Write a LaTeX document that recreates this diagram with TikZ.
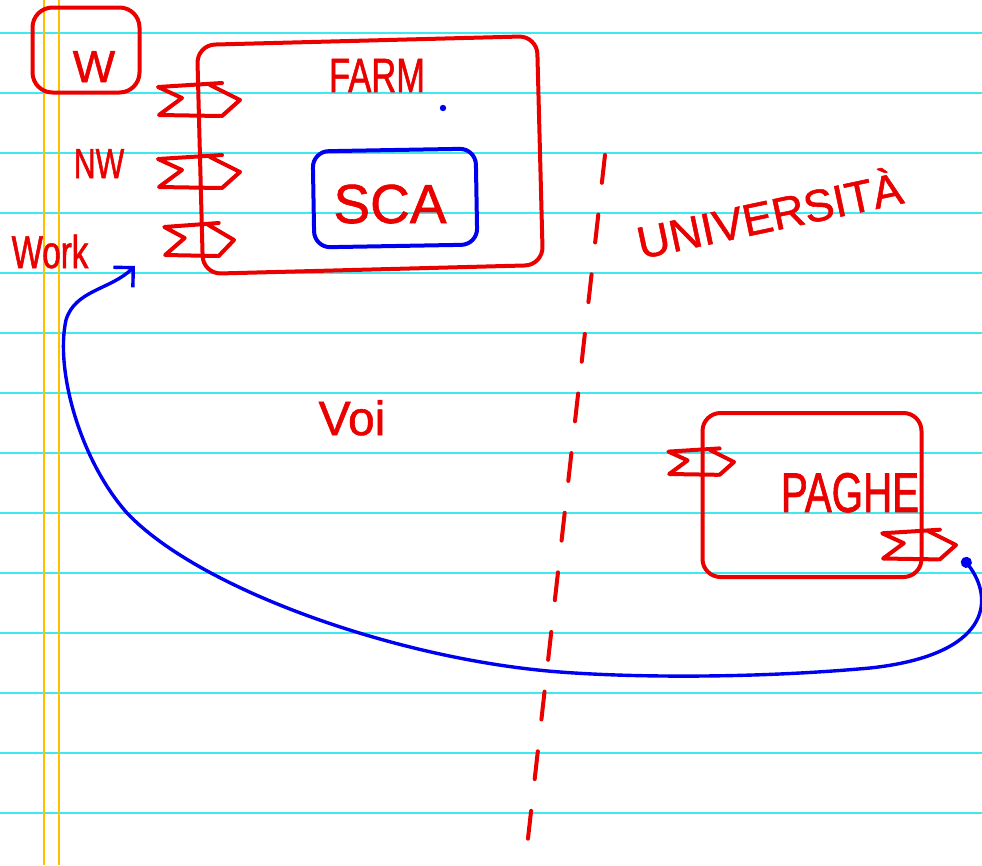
\documentclass[tikz,border=0pt]{standalone}
\usepackage{fontspec}
\newfontfamily\handfont[FakeStretch=0.72,FakeBold=1.2]{Liberation Sans}
\newfontfamily\handwide[FakeBold=1.2]{Liberation Sans}
\usetikzlibrary{arrows.meta,positioning}
\definecolor{penred}{RGB}{235,0,0}
\definecolor{penblue}{RGB}{0,0,240}
\definecolor{ruleline}{RGB}{64,232,240}
\definecolor{marginline}{RGB}{255,192,0}

\begin{document}
\begin{tikzpicture}[
    x=1pt, y=-1pt,
    box/.style={draw=penred, line width=4pt, rounded corners=18pt, inner sep=0pt},
    inbox/.style={draw=penblue, line width=4pt, rounded corners=16pt, inner sep=0pt},
    txt/.style={text=penred, anchor=base, inner sep=0pt},
    sigport/.pic={
        \draw[penred, line width=4pt, line cap=round, line join=round]
            (22,-17) -- (-42,-13) -- (-18,-2) -- (-41,15) -- (20,16)
            (10,-15) -- (40,0) -- (22,16);
    },
    flow/.style={penblue, line width=3.4pt, line cap=round, {Circle[length=11pt]}-{Straight Barb[length=14pt,width=28pt]}}
]
    % paper
    \useasboundingbox (0,0) rectangle (982,865);
    \fill[white] (0,0) rectangle (982,865);
    \foreach \k in {0,...,13}
        \draw[ruleline, line width=2pt] (0,33+60*\k) -- (982,33+60*\k);
    \draw[marginline, line width=1.5pt] (44,0) -- (44,865) (59,0) -- (59,865);

    % left side
    \node[box, rounded corners=20pt, minimum width=107pt, minimum height=85pt] (wbox) at (86,50) {};
    \node[txt, font=\handwide\fontsize{45}{45}\selectfont] (wlbl) at (94,82) {W};
    \node[txt, font=\handfont\fontsize{42}{42}\selectfont] (nwlbl) at (99,178) {NW};
    \node[txt, font=\handfont\fontsize{46}{46}\selectfont] (worklbl) at (50,268) {Work};

    % farm
    \node[box, rotate=1.5, minimum width=340pt, minimum height=229pt] (farm) at (370,155) {};
    \node[txt, font=\handfont\fontsize{48}{48}\selectfont] (farmlbl) at (377,92) {FARM};
    \fill[penblue] (443,108) circle (3.2pt);
    \node[inbox, rotate=1, minimum width=163pt, minimum height=96pt] (sca) at (395,198) {};
    \node[txt, font=\handwide\fontsize{55}{55}\selectfont] (scalbl) at (390,223) {SCA};
    \pic at (200,100) {sigport};
    \pic at (200,172) {sigport};
    \pic[xscale=0.85] at (200,240) {sigport};

    \node[txt, font=\handwide\fontsize{48}{48}\selectfont] (voilbl) at (352,435) {Voi};

    % border
    \coordinate (divtop) at (605,155);
    \coordinate (divbot) at (525,865);
    \draw[penred, line width=4pt, line cap=round, dash pattern=on 28pt off 32pt] (divtop) -- (divbot);
    \node[txt, rotate=12, font=\handwide\fontsize{45}{45}\selectfont] (unilbl) at (773,231) {UNIVERSITÀ};

    % paghe
    \node[box, minimum width=219pt, minimum height=164pt] (paghe) at (812,495) {};
    \node[txt, font=\handfont\fontsize{56}{56}\selectfont] (paghelbl) at (850,512) {PAGHE};
    \pic[scale=0.8] at (702,462) {sigport};
    \pic[scale=0.9] at (920,545) {sigport};

    \coordinate (pagheout) at (963,558);
    \coordinate (worktip) at (135,266);
    \draw[flow] (pagheout) .. controls (995,600) and (990,655) .. (870,668)
        .. controls (760,678) and (640,678) .. (560,672)
        .. controls (400,660) and (200,590) .. (127,513)
        .. controls (80,460) and (55,370) .. (66,320)
        .. controls (75,290) and (110,290) .. (worktip);
\end{tikzpicture}
\end{document}
